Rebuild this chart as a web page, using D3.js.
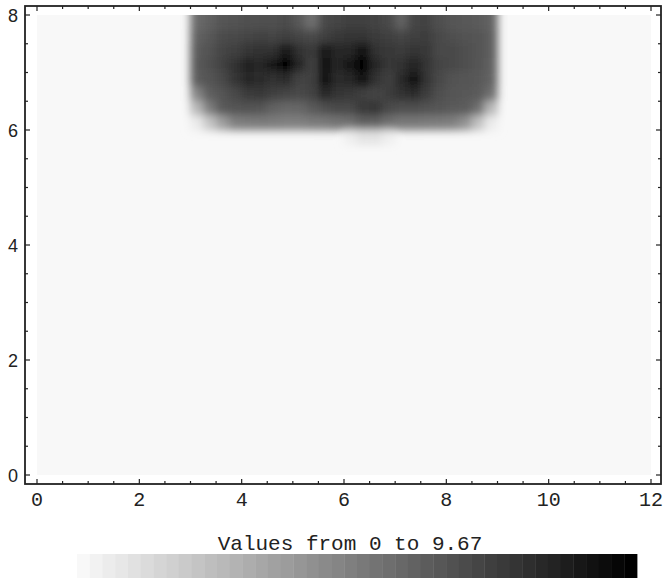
<!DOCTYPE html>
<html>
<head>
<meta charset="utf-8">
<script src="https://cdn.jsdelivr.net/npm/d3@7"></script>
<style>
  body { margin: 0; background: #ffffff; }
  svg { display: block; }
</style>
</head>
<body>
<div id="chart"></div>
<script>
var WIDTH = 664;
var HEIGHT = 581;

var xTicks = [0, 2, 4, 6, 8, 10, 12];
var yTicks = [0, 2, 4, 6, 8];
var valueMin = 0;
var valueMax = 9.67;
var legendTitle = "Values from 0 to 9.67";

// cell centres of the sampled grid (everything else is 0)
var gridX = [3.125, 3.375, 3.625, 3.875, 4.125, 4.375, 4.625, 4.875, 5.125, 5.375, 5.625, 5.875,
             6.125, 6.375, 6.625, 6.875, 7.125, 7.375, 7.625, 7.875, 8.125, 8.375, 8.625, 8.875];
var gridY = [7.875, 7.625, 7.375, 7.125, 6.875, 6.625, 6.375, 6.125, 5.875];

var density = [
  [5.55,5.94,6.37,6.49,6.56,6.56,6.56,6.72,6.25,5.32,6.80,6.99,7.18,7.18,7.11,6.87,5.86,6.99,7.11,6.56,6.37,6.25,6.17,5.86],
  [5.86,6.25,6.72,6.87,6.99,7.11,7.03,7.18,6.99,6.80,7.18,7.50,7.61,7.61,7.42,7.18,6.99,7.18,7.26,6.87,6.56,6.49,6.37,6.02],
  [6.10,6.49,6.99,7.18,7.61,7.81,7.81,8.90,7.81,7.42,8.70,8.12,8.23,9.40,7.81,7.50,7.42,7.57,7.50,6.87,6.80,6.56,6.37,6.02],
  [6.17,6.56,7.11,7.81,8.35,8.12,8.80,9.50,8.12,7.18,9.20,8.23,8.80,9.67,8.23,7.50,7.81,8.35,7.61,6.99,6.80,6.56,6.37,5.94],
  [6.10,6.37,6.87,7.61,8.12,7.96,7.81,8.04,7.11,7.18,9.00,8.04,8.12,9.10,7.73,7.18,8.04,9.00,7.61,6.87,6.49,6.37,6.25,5.86],
  [4.50,6.02,6.37,6.87,7.42,7.50,7.18,6.99,6.87,7.11,8.12,7.61,7.50,7.18,6.99,7.34,7.81,8.04,7.26,6.56,6.37,6.25,6.17,5.30],
  [2.50,4.80,6.17,6.37,6.49,6.37,5.86,5.63,5.71,6.17,6.56,6.80,6.87,7.50,7.61,6.87,6.56,6.56,6.49,6.37,6.17,6.10,5.40,2.50],
  [0.50,2.00,3.50,4.70,4.85,4.93,4.85,4.70,4.70,4.93,5.01,5.17,5.32,5.94,5.86,5.32,5.01,5.01,4.93,4.85,4.70,4.00,2.20,0.50],
  [0,0,0,0,0,0,0,0,0,0,0,0,0.4,0.8,0.8,0.4,0,0,0,0,0,0,0,0]
];

var LEGEND_STEPS = 44;

function drawChart(){
  var svg = d3.select("#chart").append("svg")
    .attr("width", WIDTH).attr("height", HEIGHT);

  var frame = {left: 25, right: 661, top: 6, bottom: 484};

  var x = d3.scaleLinear().domain([0, 12]).range([37, 651]);
  var y = d3.scaleLinear().domain([0, 8]).range([475, 15]);
  var color = d3.scaleLinear().domain([valueMin, valueMax]).range(["#f8f8f8", "#000000"]);

  var defs = svg.append("defs");
  defs.append("clipPath").attr("id", "plot-clip")
    .append("rect")
    .attr("x", x(0)).attr("y", y(8))
    .attr("width", x(12) - x(0)).attr("height", y(0) - y(8));

  var blur = defs.append("filter").attr("id", "smooth")
    .attr("filterUnits", "userSpaceOnUse")
    .attr("x", x(0) - 20).attr("y", y(8) - 40)
    .attr("width", x(12) - x(0) + 40).attr("height", y(0) - y(8) + 80);
  blur.append("feGaussianBlur").attr("stdDeviation", 4.2);

  // background (value 0)
  svg.append("rect")
    .attr("x", x(0)).attr("y", y(8))
    .attr("width", x(12) - x(0)).attr("height", y(0) - y(8))
    .attr("fill", color(0));

  var cells = [];
  density.forEach(function(row, r){
    row.forEach(function(v, c){
      if(v > 0) cells.push({x: gridX[c], y: gridY[r], v: v, top: r == 0});
    });
  });

  var half = 0.125;
  svg.append("g").attr("clip-path", "url(#plot-clip)")
    .append("g").attr("filter", "url(#smooth)")
    .selectAll(".cell")
    .data(cells)
    .enter().append("rect")
    .attr("class", "cell")
    .attr("x", function(d){return x(d.x - half) - 0.3})
    .attr("width", function(d){return x(d.x + half) - x(d.x - half) + 0.6})
    .attr("y", function(d){return d.top ? y(d.y + half) - 30 : y(d.y + half) - 0.3})
    .attr("height", function(d){return (y(d.y - half) - y(d.y + half)) + (d.top ? 30 : 0.6)})
    .attr("fill", function(d){return color(d.v)});

  // frame
  svg.append("rect")
    .attr("x", frame.left).attr("y", frame.top)
    .attr("width", frame.right - frame.left).attr("height", frame.bottom - frame.top)
    .attr("fill", "none").attr("stroke", "#222").attr("stroke-width", 1.8);

  var xMinor = d3.range(0, 12.01, 0.5);
  var yMinor = d3.range(0, 8.01, 0.5);
  var ticks = svg.append("g").attr("stroke", "#222").attr("stroke-width", 1.2);

  xMinor.forEach(function(t){
    var len = (t % 2 == 0) ? 5 : 3;
    ticks.append("line").attr("x1", x(t)).attr("x2", x(t))
      .attr("y1", frame.bottom).attr("y2", frame.bottom - len);
    ticks.append("line").attr("x1", x(t)).attr("x2", x(t))
      .attr("y1", frame.top).attr("y2", frame.top + len);
  });
  yMinor.forEach(function(t){
    var len = (t % 2 == 0) ? 5 : 3;
    ticks.append("line").attr("y1", y(t)).attr("y2", y(t))
      .attr("x1", frame.left).attr("x2", frame.left + len);
    ticks.append("line").attr("y1", y(t)).attr("y2", y(t))
      .attr("x1", frame.right).attr("x2", frame.right - len);
  });

  svg.selectAll(".x-label").data(xTicks).enter().append("text")
    .attr("class", "x-label")
    .attr("x", function(d){return x(d)})
    .attr("y", 506)
    .attr("text-anchor", "middle")
    .attr("font-family", "Liberation Mono, Courier New, monospace")
    .attr("font-size", 20)
    .attr("fill", "#222")
    .text(function(d){return d});

  svg.selectAll(".y-label").data(yTicks).enter().append("text")
    .attr("class", "y-label")
    .attr("x", 18)
    .attr("y", function(d){return y(d) + 6.5})
    .attr("text-anchor", "end")
    .attr("font-family", "Liberation Sans, Arial, sans-serif")
    .attr("font-size", 18)
    .attr("fill", "#222")
    .text(function(d){return d});

  // legend
  var legendX = d3.scaleLinear().domain([0, LEGEND_STEPS]).range([77, 637]);
  var steps = d3.range(LEGEND_STEPS);
  svg.selectAll(".legend-step").data(steps).enter().append("rect")
    .attr("class", "legend-step")
    .attr("x", function(d){return legendX(d)})
    .attr("width", function(d){return legendX(d + 1) - legendX(d) + 0.4})
    .attr("y", 554).attr("height", 24)
    .attr("fill", function(d){return color(valueMin + (valueMax - valueMin) * d / (LEGEND_STEPS - 1))});

  svg.append("text")
    .attr("x", 350).attr("y", 550)
    .attr("text-anchor", "middle")
    .attr("font-family", "Liberation Mono, Courier New, monospace")
    .attr("font-size", 21)
    .attr("fill", "#222")
    .text(legendTitle);
}

drawChart();
</script>
</body>
</html>
